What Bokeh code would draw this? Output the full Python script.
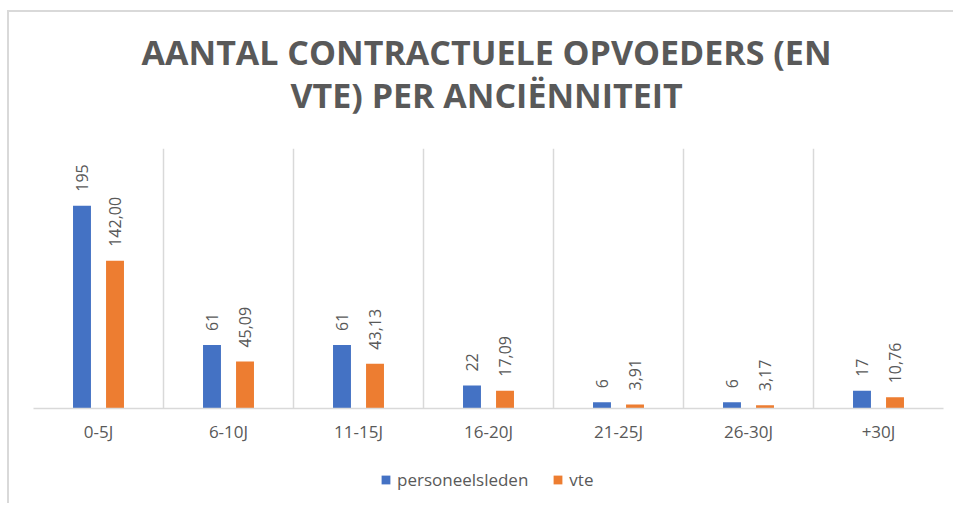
import numpy as np
from bokeh.plotting import figure
from bokeh.layouts import column
from bokeh.models import (ColumnDataSource, Range1d, FixedTicker, Legend,
                          LegendItem, Label)
from bokeh.transform import dodge
from bokeh.embed import file_html
from bokeh.resources import INLINE
from bokeh.core.properties import value

categories = ["0-5J", "6-10J", "11-15J", "16-20J", "21-25J", "26-30J", "+30J"]
personeelsleden = [195, 61, 61, 22, 6, 6, 17]
vte = [142.00, 45.09, 43.13, 17.09, 3.91, 3.17, 10.76]
title_lines = ["AANTAL CONTRACTUELE OPVOEDERS (EN", "VTE) PER ANCIËNNITEIT"]
series_names = ["personeelsleden", "vte"]

BLUE = "#4472C4"
ORANGE = "#ED7D31"
GRID = "#D9D9D9"
TEXT = "#595959"
FONT = "Open Sans"

n = len(categories)
centers = [i + 0.5 for i in range(n)]
src = ColumnDataSource(dict(
    x=centers,
    p=personeelsleden,
    v=vte,
    p_lbl=[str(v) for v in personeelsleden],
    v_lbl=[f"{v:.2f}".replace(".", ",") for v in vte],
))

W = 944

# ---- title strip ----
TH = 136
tf = figure(width=W, height=TH, output_backend="svg", toolbar_location=None,
            min_border=0, outline_line_color=None,
            x_range=Range1d(0, W), y_range=Range1d(0, TH))
tf.axis.visible = False
tf.grid.visible = False
for line, ypos in zip(title_lines, (TH - 39, TH - 82)):
    tf.add_layout(Label(x=W / 2 - 2, y=ypos, text=line, text_align="center",
                        text_baseline="middle", text_font=FONT,
                        text_font_size="34px", text_font_style="bold",
                        text_color=TEXT))

# ---- main chart ----
p = figure(width=W, height=297, output_backend="svg", toolbar_location=None,
           x_range=Range1d(0, n), y_range=Range1d(0, 250),
           min_border_left=24, min_border_right=10,
           min_border_top=0, min_border_bottom=35,
           outline_line_color=None, background_fill_color="white",
           border_fill_color="white")

off = 0.127
bw = 0.138
r1 = p.vbar(x=dodge("x", -off), top="p", width=bw, bottom=0, source=src,
            fill_color=BLUE, line_color=None)
r2 = p.vbar(x=dodge("x", off), top="v", width=bw, bottom=0, source=src,
            fill_color=ORANGE, line_color=None)

for col, lbl, d in (("p", "p_lbl", -off), ("v", "v_lbl", off)):
    p.text(x=dodge("x", d), y=col, text=lbl, source=src, angle=np.pi / 2,
           text_align="left", text_baseline="middle", y_offset=-14,
           text_font=value(FONT), text_font_size="16px", text_color=TEXT)

p.yaxis.visible = False
p.ygrid.visible = False
xa = p.xaxis[0]
xa.ticker = FixedTicker(ticks=centers)
xa.major_label_overrides = {c: lab for c, lab in zip(centers, categories)}
xa.axis_line_color = GRID
xa.axis_line_width = 1.5
xa.major_tick_line_color = None
xa.minor_tick_line_color = None
xa.major_label_text_font = FONT
xa.major_label_text_font_size = "17px"
xa.major_label_text_color = TEXT
xa.major_label_standoff = 5

p.xgrid.ticker = FixedTicker(ticks=list(range(n + 1)))
p.xgrid.grid_line_color = GRID
p.xgrid.grid_line_width = 1.5

# ---- legend strip ----
lp = figure(width=W, height=58, output_backend="svg", toolbar_location=None,
            min_border=0, outline_line_color=None,
            x_range=Range1d(-10, -9), y_range=Range1d(0, 1))
lp.axis.visible = False
lp.grid.visible = False
l1 = lp.vbar(x="x", top=0, bottom=0, width=0.1, source=src,
             fill_color=BLUE, line_color=None)
l2 = lp.vbar(x="x", top=0, bottom=0, width=0.1, source=src,
             fill_color=ORANGE, line_color=None)
legend = Legend(items=[LegendItem(label=series_names[0], renderers=[l1]),
                       LegendItem(label=series_names[1], renderers=[l2])],
                orientation="horizontal", location=(347, 12),
                glyph_width=11, glyph_height=11, label_standoff=6, spacing=24,
                label_text_font=FONT, label_text_font_size="17px",
                label_text_color=TEXT, border_line_color=None,
                background_fill_alpha=0, padding=0, margin=0)
lp.add_layout(legend, "center")

layout = column(tf, p, lp, spacing=0)
layout.styles = {"border-top": "2px solid #D9D9D9", "border-left": "2px solid #D9D9D9",
                 "margin-top": "10px", "margin-left": "7px"}

open("out.html", "w").write(file_html(layout, INLINE))
